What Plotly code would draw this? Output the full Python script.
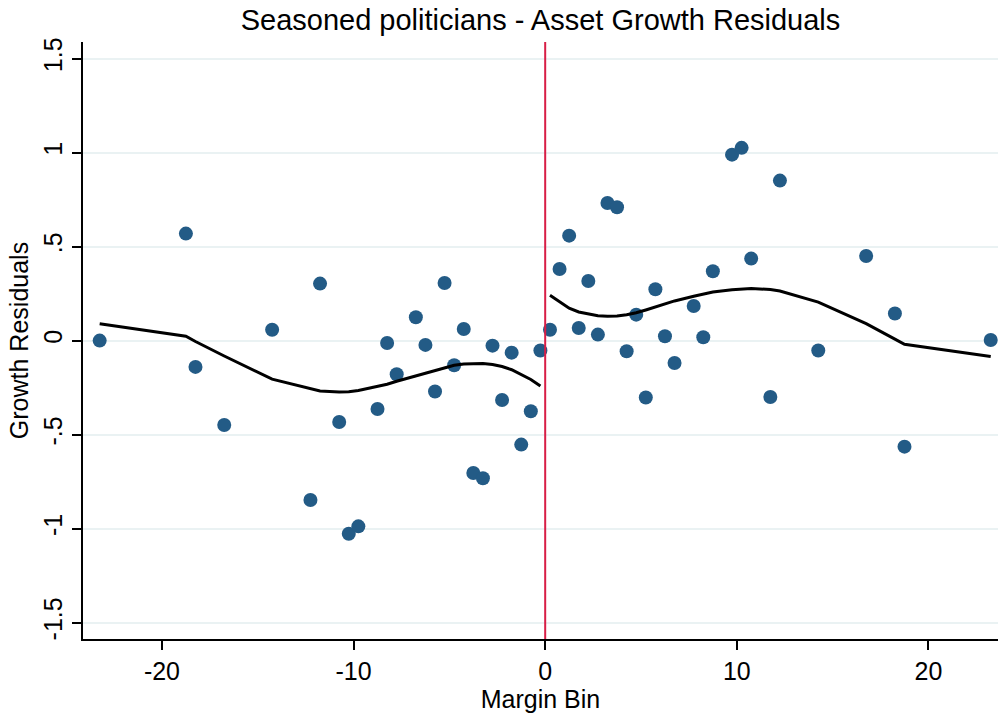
import plotly.graph_objects as go

# Binned residuals by electoral margin
margin_left = [-23.25, -18.75, -18.25, -16.75, -14.25, -12.25, -11.75, -10.75, -10.25,
               -9.75, -8.75, -8.25, -7.75, -6.75, -6.25, -5.75, -5.25, -4.75, -4.25,
               -3.75, -3.25, -2.75, -2.25, -1.75, -1.25, -0.75, -0.25]
resid_left = [0.000, 0.569, -0.140, -0.449, 0.058, -0.848, 0.303, -0.433, -1.027,
              -0.988, -0.364, -0.013, -0.179, 0.124, -0.023, -0.271, 0.306, -0.131, 0.062,
              -0.704, -0.732, -0.027, -0.316, -0.064, -0.553, -0.376, -0.053]
fit_left = [0.090, 0.023, -0.005, -0.082, -0.205, -0.258, -0.268, -0.273, -0.272,
            -0.265, -0.245, -0.232, -0.216, -0.188, -0.172, -0.156, -0.142, -0.131, -0.124,
            -0.121, -0.122, -0.127, -0.138, -0.155, -0.180, -0.207, -0.241]

margin_right = [0.25, 0.75, 1.25, 1.75, 2.25, 2.75, 3.25, 3.75, 4.25, 4.75, 5.25, 5.75,
                6.25, 6.75, 7.75, 8.25, 8.75, 9.75, 10.25, 10.75, 11.75, 12.25, 14.25,
                16.75, 18.25, 18.75, 23.25]
resid_right = [0.058, 0.381, 0.558, 0.067, 0.317, 0.032, 0.732, 0.709, -0.057, 0.138,
               -0.303, 0.273, 0.023, -0.119, 0.184, 0.018, 0.369, 0.989, 1.025, 0.436,
               -0.300, 0.851, -0.053, 0.450, 0.144, -0.564, 0.003]
fit_right = [0.241, 0.205, 0.172, 0.152, 0.140, 0.132, 0.129, 0.131, 0.138, 0.148,
             0.163, 0.180, 0.197, 0.211, 0.236, 0.248, 0.258, 0.271, 0.276, 0.277,
             0.272, 0.264, 0.205, 0.090, 0.008, -0.020, -0.085]

cutoff = 0
y_ticks = [-1.5, -1, -0.5, 0, 0.5, 1, 1.5]
y_tick_labels = ["-1.5", "-1", "-.5", "0", ".5", "1", "1.5"]
x_ticks = [-20, -10, 0, 10, 20]
x_tick_labels = ["-20", "-10", "0", "10", "20"]

DOT = "#235b86"
FONT = "Liberation Sans, Arial, Helvetica, sans-serif"

fig = go.Figure()
for xs, ys in [(margin_left, resid_left), (margin_right, resid_right)]:
    fig.add_trace(go.Scatter(x=xs, y=ys, mode="markers",
                             marker=dict(size=14, color=DOT, line=dict(width=0)),
                             showlegend=False, hoverinfo="x+y"))
for xs, ys in [(margin_left, fit_left), (margin_right, fit_right)]:
    fig.add_trace(go.Scatter(x=xs, y=ys, mode="lines",
                             line=dict(color="black", width=3),
                             showlegend=False, hoverinfo="x+y"))

fig.add_vline(x=cutoff, line=dict(color="#d81e46", width=2), layer="above")

fig.update_layout(
    width=998, height=715,
    margin=dict(l=83, r=0, t=42, b=76),
    paper_bgcolor="white", plot_bgcolor="white",
    font=dict(family=FONT, size=26, color="black"),
    title=dict(text="Seasoned politicians - Asset Growth Residuals",
               x=0.5, xanchor="center", xref="paper", y=0.972, yanchor="middle",
               font=dict(size=29, color="black")),
    xaxis=dict(range=[-24.12, 23.63], tickvals=x_ticks, ticktext=x_tick_labels,
               showgrid=False, zeroline=False, showline=True, linecolor="black",
               linewidth=1.5, ticks="outside", ticklen=9, tickwidth=1.5,
               tickcolor="black", tickfont=dict(size=25),
               title=dict(text="Margin Bin", font=dict(size=25), standoff=4)),
    yaxis=dict(range=[-1.587, 1.588], tickvals=y_ticks, ticktext=y_tick_labels,
               tickangle=-90, showgrid=True, gridcolor="#eaf2f3", gridwidth=1.5,
               zeroline=False, showline=True, linecolor="black", linewidth=1.5,
               ticks="outside", ticklen=9, tickwidth=1.5, tickcolor="black",
               tickfont=dict(size=25),
               title=dict(text="Growth Residuals", font=dict(size=25), standoff=4)),
)

fig.write_html("out.html")
